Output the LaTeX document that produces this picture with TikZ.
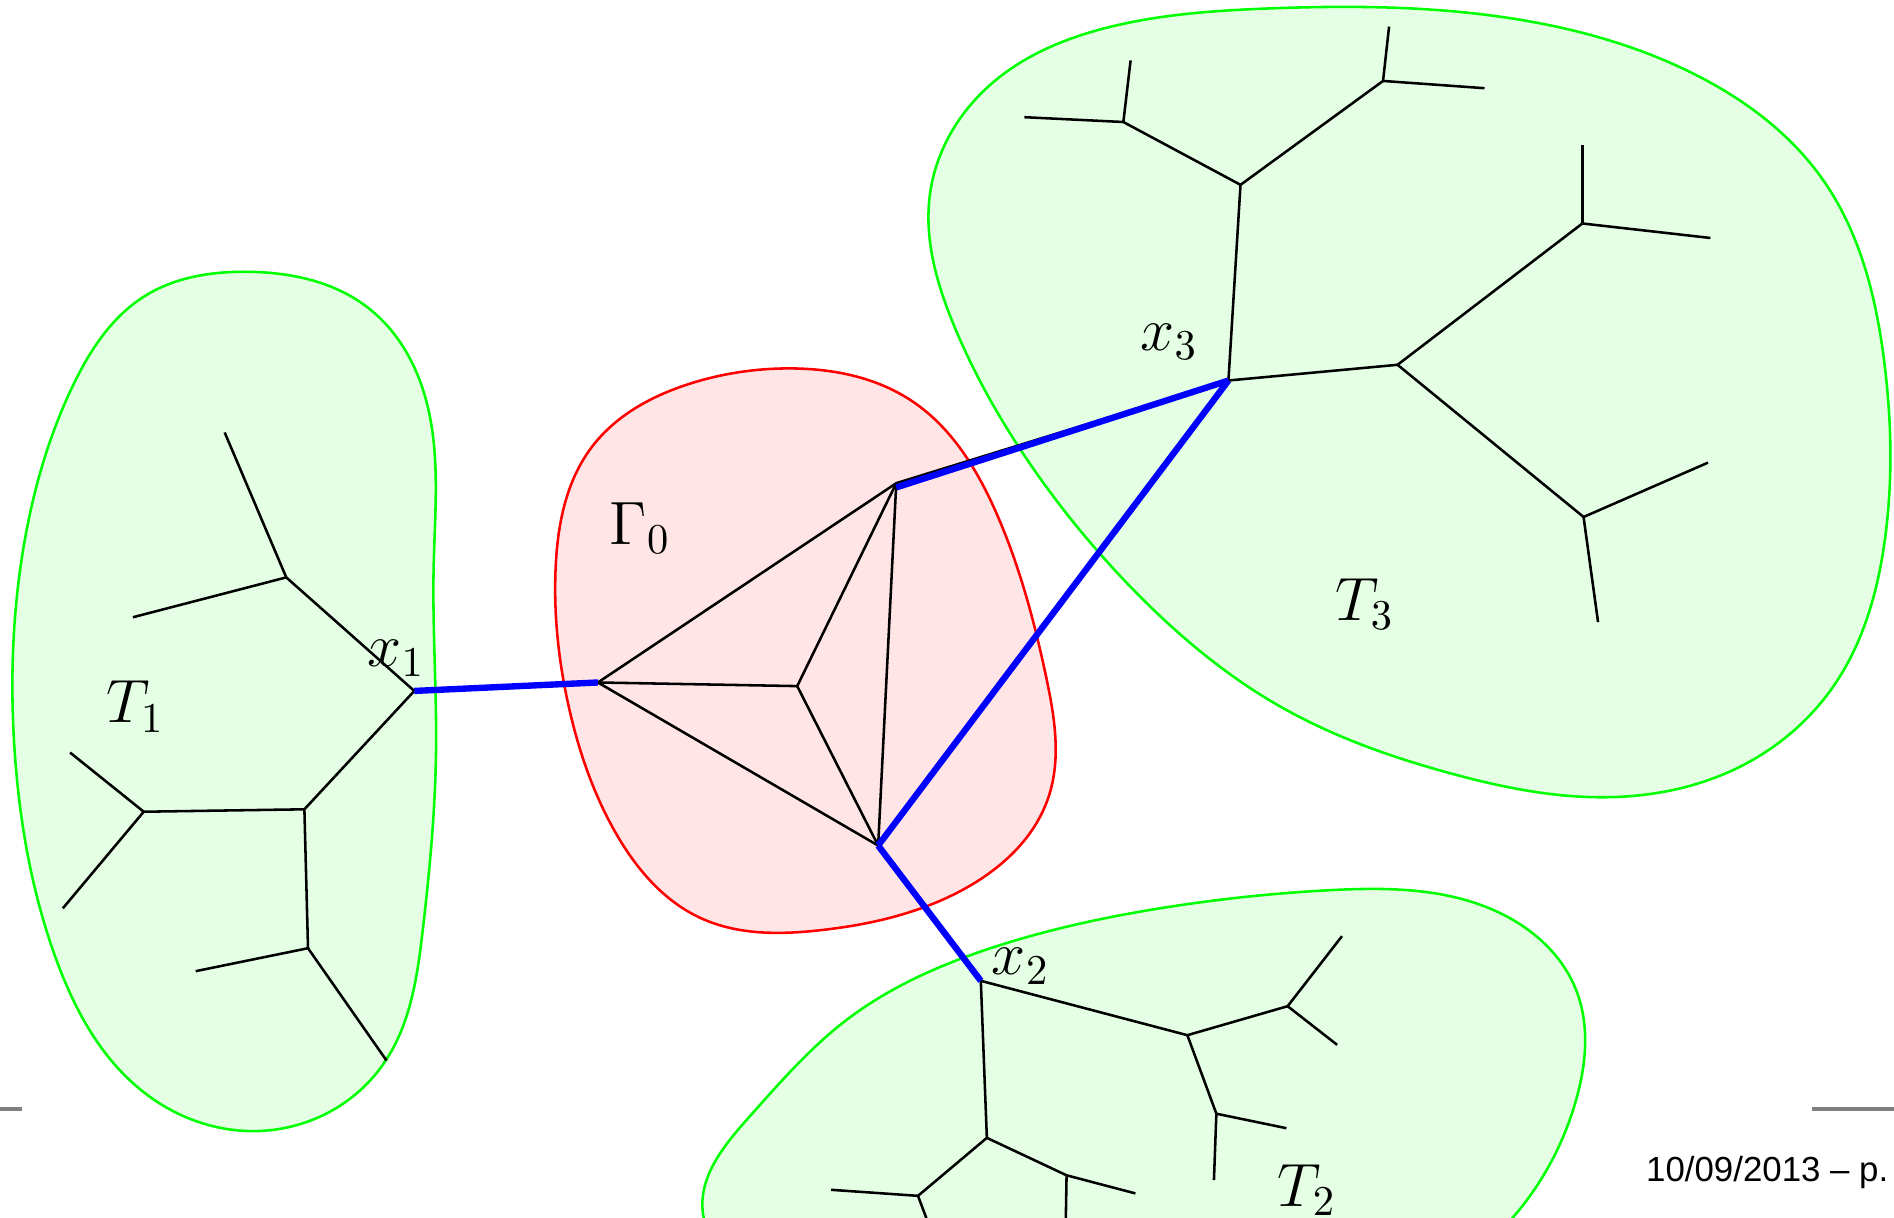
\documentclass[tikz,border=0pt]{standalone}
\usepackage{fontspec}
\usepackage{amsmath}
\newfontfamily\footfont[Ligatures=TeX]{Liberation Sans}
\usetikzlibrary{calc,hobby}

\begin{document}
\begin{tikzpicture}[
    x=0.01cm,y=-0.01cm,
    use Hobby shortcut,
    region/.style={draw=green,fill=green!10,line width=0.6pt},
    core/.style={draw=red,fill=red!10,line width=0.6pt},
    edge/.style={line width=0.6pt},
    bridge/.style={draw=blue,line width=1.5pt},
    lbl/.style={font=\fontsize{14}{16}\selectfont,inner sep=0pt},
    rule/.style={draw=gray,line width=0.8pt},
]
\useasboundingbox (0,0) rectangle (1568,1008);

% ---- Regions --------------------------------------------------------------
\draw[region,closed=true] (205,225) .. (305,255) .. (350,322) .. (359,470)
    .. (361,620) .. (350,770) .. (318,880) .. (220,936) .. (120,905)
    .. (45,790) .. (12,620) .. (20,450) .. (60,320) .. (120,245);
\draw[region,closed=true] (1050,7) .. (1250,15) .. (1400,60) .. (1510,150)
    .. (1560,300) .. (1560,450) .. (1520,565) .. (1440,635) .. (1330,660)
    .. (1200,640) .. (1060,585) .. (940,490) .. (850,380) .. (790,270)
    .. (770,160) .. (820,70) .. (920,22);
\draw[region,closed=true] (1100,737) .. (1240,755) .. (1305,820)
    .. (1305,910) .. (1255,1005) .. (1150,1080) .. (900,1100) .. (680,1075)
    .. (582,1005) .. (620,925) .. (700,845) .. (820,785) .. (960,752);
\draw[core,closed=true] (655,305) .. (755,332) .. (825,425) .. (866,560)
    .. (868,660) .. (800,735) .. (680,770) .. (580,760) .. (510,690)
    .. (472,590) .. (460,470) .. (490,370) .. (570,318);

% ---- Vertices -------------------------------------------------------------
% Gamma_0
\coordinate (A) at (495,565);
\coordinate (B) at (742,400);
\coordinate (C) at (660,568);
\coordinate (D) at (727,700);
% T_1
\coordinate (x1)  at (343,572);
\coordinate (c)   at (237,478);
\coordinate (c1)  at (186,358);
\coordinate (c2)  at (110,511);
\coordinate (d)   at (252,670);
\coordinate (d1)  at (119,672);
\coordinate (d1u) at (58,623);
\coordinate (d1d) at (52,752);
\coordinate (e)   at (255,785);
\coordinate (e1)  at (162,804);
\coordinate (e2)  at (320,878);
% T_2
\coordinate (x2)  at (812,812);
\coordinate (f)   at (983,857);
\coordinate (f1)  at (1066,833);
\coordinate (f1u) at (1111,775);
\coordinate (f1d) at (1107,865);
\coordinate (f2)  at (1007,922);
\coordinate (f2r) at (1065,934);
\coordinate (f2d) at (1005,977);
\coordinate (g)   at (817,942);
\coordinate (g1)  at (760,990);
\coordinate (g1l) at (688,985);
\coordinate (g1d) at (775,1030);
\coordinate (g2)  at (883,973);
\coordinate (g2r) at (940,988);
\coordinate (g2d) at (882,1030);
% T_3
\coordinate (x3)  at (1017,315);
\coordinate (a)   at (1027,153);
\coordinate (a1)  at (930,101);
\coordinate (a1l) at (848,97);
\coordinate (a1u) at (936,50);
\coordinate (a2)  at (1145,67);
\coordinate (a2r) at (1229,73);
\coordinate (a2u) at (1150,22);
\coordinate (b)   at (1157,302);
\coordinate (b1)  at (1310,185);
\coordinate (b1u) at (1310,120);
\coordinate (b1r) at (1416,197);
\coordinate (b2)  at (1311,428);
\coordinate (b2r) at (1414,383);
\coordinate (b2d) at (1323,515);

% ---- Edges ----------------------------------------------------------------
\foreach \u/\v in {A/B, A/C, A/D, B/C, B/D, C/D, A/x1, B/x3,
                   x1/c, c/c1, c/c2, x1/d, d/d1, d1/d1u, d1/d1d, d/e, e/e1, e/e2,
                   x2/f, f/f1, f1/f1u, f1/f1d, f/f2, f2/f2r, f2/f2d,
                   x2/g, g/g1, g1/g1l, g1/g1d, g/g2, g2/g2r, g2/g2d,
                   x3/a, a/a1, a1/a1l, a1/a1u, a/a2, a2/a2r, a2/a2u,
                   x3/b, b/b1, b1/b1u, b1/b1r, b/b2, b2/b2r, b2/b2d}
    \draw[edge] (\u) -- (\v);

% ---- Bridges --------------------------------------------------------------
\draw[bridge] (x1) -- (A);
\draw[bridge] ([yshift=-1pt]B) -- (x3);
\draw[bridge] (D) -- (x3);
\draw[bridge] (D) -- (x2);

% ---- Labels ---------------------------------------------------------------
\node[lbl] (lG) at (530,437)  {$\Gamma_0$};
\node[lbl] (lT1) at (112,585) {$T_1$};
\node[lbl] (lT2) at (1082,985) {$T_2$};
\node[lbl] (lT3) at (1130,500) {$T_3$};
\node[lbl] (lx1) at (328,545) {$x_1$};
\node[lbl] (lx2) at (845,800) {$x_2$};
\node[lbl] (lx3) at (968,283) {$x_3$};

% ---- Footer ---------------------------------------------------------------
\coordinate (rl1) at (0,918);   \coordinate (rl2) at (18,918);
\coordinate (rr1) at (1500,918); \coordinate (rr2) at (1568,918);
\draw[rule] (rl1) -- (rl2);
\draw[rule] (rr1) -- (rr2);
\node[anchor=base east,inner sep=0pt,font=\footfont\fontsize{8.2}{10}\selectfont]
    (date) at (1564,978) {10/09/2013 -- p.};

\end{tikzpicture}
\end{document}
